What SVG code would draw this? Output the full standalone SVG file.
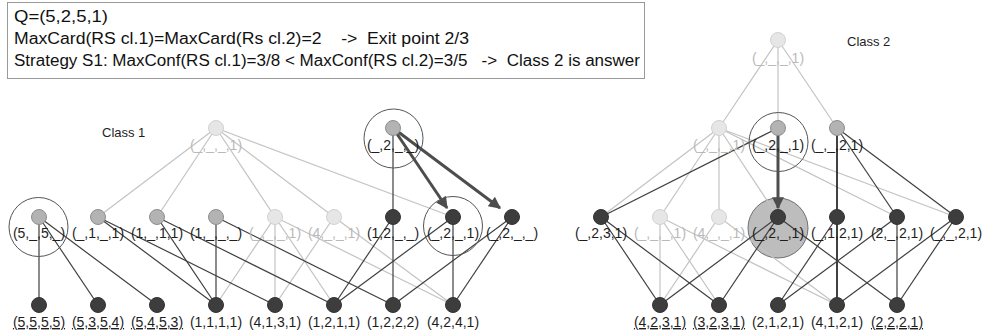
<svg xmlns="http://www.w3.org/2000/svg" width="982" height="335" viewBox="0 0 982 335">
<defs>
<style>
.t{font-family:"Liberation Sans",Arial,sans-serif;font-size:14px;fill:#1e1e1e;}
.h{font-family:"Liberation Sans",Arial,sans-serif;font-size:16px;fill:#111;}
.lt{fill:#b9b9b9;}
.u{text-decoration:underline;}
.el{stroke:#c3c3c3;stroke-width:1.2;fill:none;}
.ed{stroke:#3f3f3f;stroke-width:1.2;fill:none;}
.eb{stroke:#111;stroke-width:1.6;fill:none;}
.ar{stroke:#4d4d4d;stroke-width:3;fill:none;}
.nl{fill:#e6e6e6;stroke:#d2d2d2;stroke-width:1;}
.nm{fill:#b3b3b3;stroke:#8e8e8e;stroke-width:1;}
.nd{fill:#3d3d3d;stroke:#333;stroke-width:1;}
.ring{fill:none;stroke:#555;stroke-width:1;}
</style>
<marker id="ah" viewBox="0 0 10 10" refX="9" refY="5" markerWidth="15" markerHeight="12" markerUnits="userSpaceOnUse" orient="auto">
<path d="M0,0 L10,5 L0,10 z" fill="#4d4d4d"/>
</marker>
</defs>
<rect width="982" height="335" fill="#fff"/>

<g id="header">
<rect x="7.5" y="2.5" width="637" height="76" fill="#fff" stroke="#999" stroke-width="1"/>
<text class="h" x="14" y="22" textLength="94" lengthAdjust="spacingAndGlyphs">Q=(5,2,5,1)</text>
<text class="h" x="14" y="44" textLength="455" lengthAdjust="spacingAndGlyphs" xml:space="preserve">MaxCard(RS cl.1)=MaxCard(Rs cl.2)=2    -&gt;  Exit point 2/3</text>
<text class="h" x="14" y="66" textLength="626" lengthAdjust="spacingAndGlyphs" xml:space="preserve">Strategy S1: MaxConf(RS cl.1)=3/8 &lt; MaxConf(RS cl.2)=3/5   -&gt;  Class 2 is answer</text>
</g>

<text class="t" x="102" y="137" style="font-size:13px">Class 1</text>
<text class="t" x="847" y="46" style="font-size:13px">Class 2</text>

<!-- right filled highlight circle -->
<circle cx="778" cy="228" r="30" fill="#bdbdbd" stroke="#6f6f6f" stroke-width="1"/>

<g id="connectors">
<!-- left light -->
<line class="el" x1="216" y1="128" x2="98" y2="217"/>
<line class="el" x1="216" y1="128" x2="157" y2="217"/>
<line class="el" x1="216" y1="128" x2="275" y2="217"/>
<line class="el" x1="216" y1="128" x2="334" y2="217"/>
<line class="el" x1="216" y1="128" x2="453" y2="217"/>
<line class="el" x1="275" y1="217" x2="216" y2="305"/>
<line class="el" x1="275" y1="217" x2="275" y2="305"/>
<line class="el" x1="275" y1="217" x2="334" y2="305"/>
<line class="el" x1="275" y1="217" x2="453" y2="305"/>
<line class="el" x1="334" y1="217" x2="275" y2="305"/>
<line class="el" x1="334" y1="217" x2="453" y2="305"/>
<!-- left dark -->
<line class="ed" x1="393" y1="128" x2="393" y2="217"/>
<line class="ed" x1="39" y1="217" x2="39" y2="305"/>
<line class="ed" x1="39" y1="217" x2="98" y2="305"/>
<line class="ed" x1="39" y1="217" x2="157" y2="305"/>
<line class="ed" x1="98" y1="217" x2="216" y2="305"/>
<line class="ed" x1="98" y1="217" x2="275" y2="305"/>
<line class="ed" x1="157" y1="217" x2="216" y2="305"/>
<line class="ed" x1="157" y1="217" x2="334" y2="305"/>
<line class="ed" x1="216" y1="217" x2="216" y2="305"/>
<line class="ed" x1="216" y1="217" x2="393" y2="305"/>
<line class="ed" x1="393" y1="217" x2="334" y2="305"/>
<line class="ed" x1="393" y1="217" x2="393" y2="305"/>
<line class="ed" x1="453" y1="217" x2="334" y2="305"/>
<line class="ed" x1="453" y1="217" x2="453" y2="305"/>
<line class="ed" x1="512" y1="217" x2="393" y2="305"/>
<line class="ed" x1="512" y1="217" x2="453" y2="305"/>
<!-- left arrows -->
<line class="ar" x1="393" y1="128" x2="447" y2="208" marker-end="url(#ah)"/>
<line class="ar" x1="393" y1="128" x2="500" y2="208" marker-end="url(#ah)"/>

<!-- right light -->
<line class="el" x1="778" y1="40" x2="719" y2="128"/>
<line class="el" x1="778" y1="40" x2="778" y2="128"/>
<line class="el" x1="778" y1="40" x2="837" y2="128"/>
<line class="el" x1="719" y1="128" x2="601" y2="217"/>
<line class="el" x1="719" y1="128" x2="660" y2="217"/>
<line class="el" x1="719" y1="128" x2="719" y2="217"/>
<line class="el" x1="719" y1="128" x2="778" y2="217"/>
<line class="el" x1="719" y1="128" x2="897" y2="217"/>
<line class="el" x1="719" y1="128" x2="956" y2="217"/>
<line class="el" x1="660" y1="217" x2="660" y2="305"/>
<line class="el" x1="660" y1="217" x2="719" y2="305"/>
<line class="el" x1="660" y1="217" x2="837" y2="305"/>
<line class="el" x1="719" y1="217" x2="660" y2="305"/>
<line class="el" x1="719" y1="217" x2="837" y2="305"/>
<!-- right dark -->
<line class="ed" x1="778" y1="128" x2="601" y2="217"/>
<line class="eb" x1="837" y1="128" x2="837" y2="305"/>
<line class="ed" x1="837" y1="128" x2="897" y2="217"/>
<line class="ed" x1="837" y1="128" x2="956" y2="217"/>
<line class="ed" x1="601" y1="217" x2="660" y2="305"/>
<line class="ed" x1="601" y1="217" x2="719" y2="305"/>
<line class="ed" x1="778" y1="217" x2="660" y2="305"/>
<line class="ed" x1="778" y1="217" x2="719" y2="305"/>
<line class="ed" x1="778" y1="217" x2="897" y2="305"/>
<line class="ed" x1="837" y1="217" x2="778" y2="305"/>
<line class="ed" x1="897" y1="217" x2="778" y2="305"/>
<line class="ed" x1="897" y1="217" x2="897" y2="305"/>
<line class="ed" x1="956" y1="217" x2="837" y2="305"/>
<line class="ed" x1="956" y1="217" x2="897" y2="305"/>
<!-- right arrow -->
<line class="ar" x1="778" y1="128" x2="778" y2="208" marker-end="url(#ah)"/>
</g>

<!-- rings -->
<circle class="ring" cx="393.5" cy="138.5" r="29.5"/>
<circle class="ring" cx="38.5" cy="227" r="29.5"/>
<circle class="ring" cx="453" cy="226" r="29.5"/>
<circle class="ring" cx="778.5" cy="142" r="29.5"/>

<!-- left nodes -->
<g id="L_t1"><circle class="nl" cx="216" cy="128" r="7.5"/><text class="t lt" x="216" y="150" text-anchor="middle">(_,_,_,1)</text></g>
<g id="L_t2"><circle class="nm" cx="393" cy="128" r="7.5"/><text class="t" x="393" y="150" text-anchor="middle">(_,2,_,_)</text></g>
<g id="L_m1"><circle class="nm" cx="39" cy="217" r="7.5"/><text class="t" x="39" y="238" text-anchor="middle">(5,_,5,_)</text></g>
<g id="L_m2"><circle class="nm" cx="98" cy="217" r="7.5"/><text class="t" x="98" y="238" text-anchor="middle">(_,1,_,1)</text></g>
<g id="L_m3"><circle class="nm" cx="157" cy="217" r="7.5"/><text class="t" x="157" y="238" text-anchor="middle">(1,_,1,1)</text></g>
<g id="L_m4"><circle class="nm" cx="216" cy="217" r="7.5"/><text class="t" x="216" y="238" text-anchor="middle">(1,_,_,_)</text></g>
<g id="L_m5"><circle class="nl" cx="275" cy="217" r="7.5"/><text class="t lt" x="275" y="238" text-anchor="middle">(_,_,_,1)</text></g>
<g id="L_m6"><circle class="nl" cx="334" cy="217" r="7.5"/><text class="t lt" x="334" y="238" text-anchor="middle">(4,_,_,1)</text></g>
<g id="L_m7"><circle class="nd" cx="393" cy="217" r="7.5"/><text class="t" x="393" y="238" text-anchor="middle">(1,2,_,_)</text></g>
<g id="L_m8"><circle class="nd" cx="453" cy="217" r="7.5"/><text class="t" x="453" y="238" text-anchor="middle">(_,2,_,1)</text></g>
<g id="L_m9"><circle class="nd" cx="512" cy="217" r="7.5"/><text class="t" x="512" y="238" text-anchor="middle">(_,2,_,_)</text></g>
<g id="L_b1"><circle class="nd" cx="39" cy="305" r="7.5"/><text class="t u" x="39" y="327" text-anchor="middle">(5,5,5,5)</text></g>
<g id="L_b2"><circle class="nd" cx="98" cy="305" r="7.5"/><text class="t u" x="98" y="327" text-anchor="middle">(5,3,5,4)</text></g>
<g id="L_b3"><circle class="nd" cx="157" cy="305" r="7.5"/><text class="t u" x="157" y="327" text-anchor="middle">(5,4,5,3)</text></g>
<g id="L_b4"><circle class="nd" cx="216" cy="305" r="7.5"/><text class="t" x="216" y="327" text-anchor="middle">(1,1,1,1)</text></g>
<g id="L_b5"><circle class="nd" cx="275" cy="305" r="7.5"/><text class="t" x="275" y="327" text-anchor="middle">(4,1,3,1)</text></g>
<g id="L_b6"><circle class="nd" cx="334" cy="305" r="7.5"/><text class="t" x="334" y="327" text-anchor="middle">(1,2,1,1)</text></g>
<g id="L_b7"><circle class="nd" cx="393" cy="305" r="7.5"/><text class="t" x="393" y="327" text-anchor="middle">(1,2,2,2)</text></g>
<g id="L_b8"><circle class="nd" cx="453" cy="305" r="7.5"/><text class="t" x="453" y="327" text-anchor="middle">(4,2,4,1)</text></g>

<!-- right nodes -->
<g id="R_t"><circle class="nl" cx="778" cy="40" r="7.5"/><text class="t lt" x="778" y="63" text-anchor="middle">(_,_,_,1)</text></g>
<g id="R_m1"><circle class="nl" cx="719" cy="128" r="7.5"/><text class="t lt" x="719" y="150" text-anchor="middle">(_,_,_,1)</text></g>
<g id="R_m2"><circle class="nm" cx="778" cy="128" r="7.5"/><text class="t" x="778" y="150" text-anchor="middle">(_,2,_,1)</text></g>
<g id="R_m3"><circle class="nm" cx="837" cy="128" r="7.5"/><text class="t" x="837" y="150" text-anchor="middle">(_,_,2,1)</text></g>
<g id="R_l1"><circle class="nd" cx="601" cy="217" r="7.5"/><text class="t" x="601" y="238" text-anchor="middle">(_,2,3,1)</text></g>
<g id="R_l2"><circle class="nl" cx="660" cy="217" r="7.5"/><text class="t lt" x="660" y="238" text-anchor="middle">(_,_,_,1)</text></g>
<g id="R_l3"><circle class="nl" cx="719" cy="217" r="7.5"/><text class="t lt" x="719" y="238" text-anchor="middle">(4,_,_,1)</text></g>
<g id="R_l4"><circle class="nd" cx="778" cy="217" r="7.5"/><text class="t" x="778" y="238" text-anchor="middle">(_,2,_,1)</text></g>
<g id="R_l5"><circle class="nd" cx="837" cy="217" r="7.5"/><text class="t" x="837" y="238" text-anchor="middle">(_,1,2,1)</text></g>
<g id="R_l6"><circle class="nd" cx="897" cy="217" r="7.5"/><text class="t" x="897" y="238" text-anchor="middle">(2,_,2,1)</text></g>
<g id="R_l7"><circle class="nd" cx="956" cy="217" r="7.5"/><text class="t" x="956" y="238" text-anchor="middle">(_,_,2,1)</text></g>
<g id="R_b1"><circle class="nd" cx="660" cy="305" r="7.5"/><text class="t u" x="660" y="327" text-anchor="middle">(4,2,3,1)</text></g>
<g id="R_b2"><circle class="nd" cx="719" cy="305" r="7.5"/><text class="t u" x="719" y="327" text-anchor="middle">(3,2,3,1)</text></g>
<g id="R_b3"><circle class="nd" cx="778" cy="305" r="7.5"/><text class="t" x="778" y="327" text-anchor="middle">(2,1,2,1)</text></g>
<g id="R_b4"><circle class="nd" cx="837" cy="305" r="7.5"/><text class="t" x="837" y="327" text-anchor="middle">(4,1,2,1)</text></g>
<g id="R_b5"><circle class="nd" cx="897" cy="305" r="7.5"/><text class="t u" x="897" y="327" text-anchor="middle">(2,2,2,1)</text></g>
</svg>
